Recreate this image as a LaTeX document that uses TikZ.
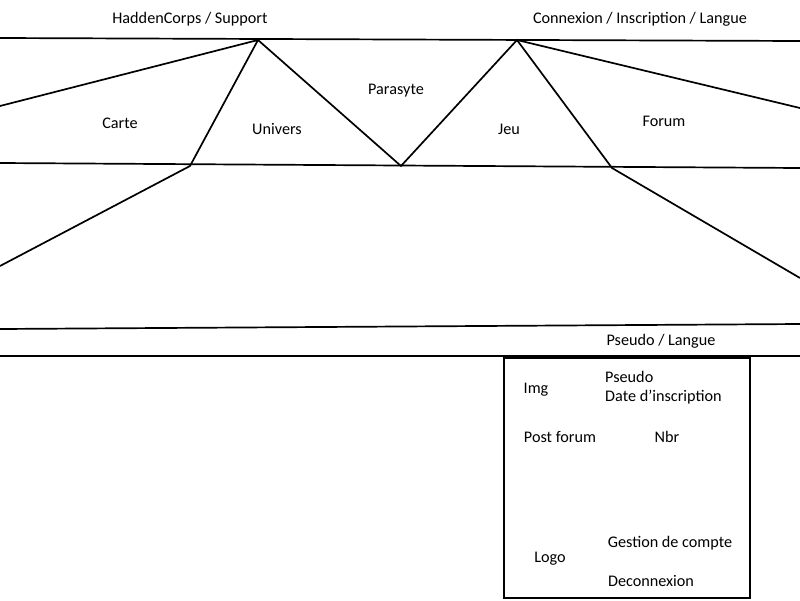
\documentclass[tikz,border=0pt]{standalone}
\usepackage{fontspec}
\setmainfont{Carlito}
\tikzset{>=latex}
\tikzset{wire/.style={line width=1.7pt, line join=miter}, lbl/.style={inner sep=0pt, font=\fontsize{16.2}{19}\selectfont}}

\begin{document}
\begin{tikzpicture}[x=1pt, y=-1pt]
  \useasboundingbox (0,0) rectangle (800,600);
  % menu points
  \coordinate (topL) at (0,38);
  \coordinate (topR) at (800,41);
  \coordinate (apexA) at (258,40);
  \coordinate (apexB) at (517,40);
  \coordinate (footA) at (190,166);
  \coordinate (footV) at (401,166);
  \coordinate (footB) at (612,168);
  % horizontal bars
  \draw[wire] (topL) -- (topR);
  \draw[wire] (0,163) -- (800,168);
  \draw[wire] (0,329) -- (800,324);
  \draw[wire] (0,356) -- (800,356);
  % tabs
  \draw[wire] (0,106) -- (apexA) -- (footA) -- (0,266);
  \draw[wire] (apexA) -- (footV) -- (apexB) -- (footB) -- (800,278);
  \draw[wire] (apexB) -- (800,108);
  % account box
  \draw[wire] (504,358) rectangle (750,598);
  % labels
  \node[lbl] (support) at (190,19) {HaddenCorps / Support};
  \node[lbl] (login) at (640,19) {Connexion / Inscription / Langue};
  \node[lbl] (carte) at (120,123) {Carte};
  \node[lbl] (univers) at (277,129) {Univers};
  \node[lbl] (parasyte) at (396,91) {Parasyte};
  \node[lbl] (jeu) at (509,129) {Jeu};
  \node[lbl] (forum) at (664,121) {Forum};
  \node[lbl] (pseudoLang) at (661,341) {Pseudo / Langue};
  \node[lbl] (img) at (536,390) {Img};
  \node[lbl, anchor=west] (pseudo) at (605,377) {Pseudo};
  \node[lbl, anchor=west] (date) at (605,397) {Date d\char"0027 inscription};
  \node[lbl] (post) at (560,437) {Post forum};
  \node[lbl] (nbr) at (667,437) {Nbr};
  \node[lbl] (gestion) at (670,543) {Gestion de compte};
  \node[lbl] (logo) at (550,559) {Logo};
  \node[lbl] (deco) at (651,581) {Deconnexion};
\end{tikzpicture}
\end{document}
